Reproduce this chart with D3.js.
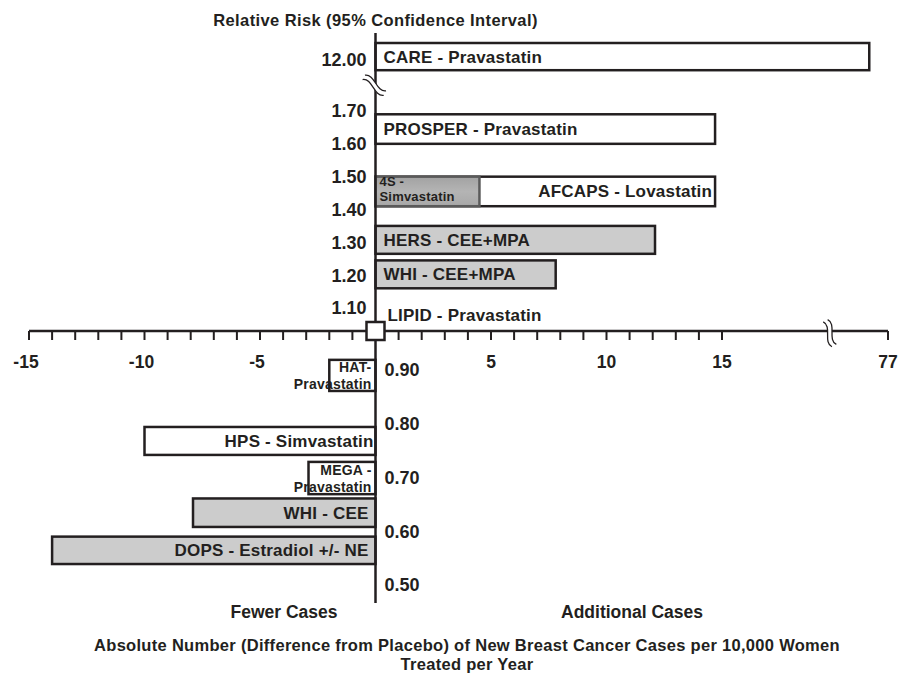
<!DOCTYPE html>
<html>
<head>
<meta charset="utf-8">
<script src="https://cdn.jsdelivr.net/npm/d3@7/dist/d3.min.js"></script>
<style>
  body { margin: 0; background: #fff; }
  svg text { font-family: "Liberation Sans", Arial, Helvetica, sans-serif; font-weight: bold; fill: #231f20; }
</style>
</head>
<body>
<svg id="chart" width="901" height="674"></svg>
<script>
// ---- data ----
const studies = [
  'CARE - Pravastatin', 'PROSPER - Pravastatin', 'AFCAPS - Lovastatin', '4S -\nSimvastatin',
  'HERS - CEE+MPA', 'WHI - CEE+MPA', 'LIPID - Pravastatin', 'HAT-\nPravastatin',
  'HPS - Simvastatin', 'MEGA -\nPravastatin', 'WHI - CEE', 'DOPS - Estradiol +/- NE'
];
// absolute difference from placebo, cases per 10,000 women per year
const diffs = [70, 14.7, 14.7, 4.5, 12.1, 7.8, 0, -2.0, -10.0, -2.9, -7.9, -14.0];
// relative risk band each box covers
const rrHigh = [12.5, 1.69, 1.50, 1.50, 1.35, 1.245, 1.0, 0.926, 0.794, 0.729, 0.661, 0.590];
const rrLow  = [11.7, 1.60, 1.41, 1.41, 1.265, 1.160, 1.0, 0.861, 0.742, 0.669, 0.608, 0.539];
const groups = ['statin', 'statin', 'statin', 'statin4S', 'hormone', 'hormone', 'marker',
  'statin', 'statin', 'statin', 'hormone', 'hormone'];

const rrTicks = [12.0, 1.7, 1.6, 1.5, 1.4, 1.3, 1.2, 1.1, 0.9, 0.8, 0.7, 0.6, 0.5];
const xMinor = d3.range(-15, 16).filter(v => v !== 0).concat([77]);
const xLabels = [-15, -10, -5, 5, 10, 15, 77];

const titleTop = 'Relative Risk (95% Confidence Interval)';
const sideLabels = ['Fewer Cases', 'Additional Cases'];
const titleBottom = ['Absolute Number (Difference from Placebo) of New Breast Cancer Cases per 10,000 Women',
  'Treated per Year'];

// ---- layout ----
const ink = '#231f20';
const fills = { statin: '#ffffff', statin4S: 'url(#g4s)', hormone: '#cccccc', marker: '#ffffff' };

// broken axes: piecewise scales
const x = d3.scaleLinear().domain([-15, 15, 77]).range([29, 722, 888]);
const y = d3.scaleLinear().domain([12.5, 11.5, 1.7, 1.1, 1.0, 0.9, 0.5]).range([43, 77, 111, 308, 331, 370, 585]);
const x0 = x(0), y0 = y(1.0);

const svg = d3.select('#chart');
svg.append('rect').attr('width', 901).attr('height', 674).attr('fill', '#fff');

const grad = svg.append('defs').append('linearGradient').attr('id', 'g4s')
  .attr('x1', 0).attr('y1', 0).attr('x2', 0).attr('y2', 1);
grad.append('stop').attr('offset', '0%').attr('stop-color', '#a2a2a2');
grad.append('stop').attr('offset', '50%').attr('stop-color', '#b4b4b4');
grad.append('stop').attr('offset', '100%').attr('stop-color', '#a8a8a8');

// bars (LIPID drawn as a marker later)
const idx = d3.range(studies.length).filter(i => groups[i] !== 'marker');
svg.selectAll('rect.bar').data(idx).join('rect').attr('class', 'bar')
  .attr('x', i => Math.min(x(diffs[i]), x0))
  .attr('width', i => Math.abs(x(diffs[i]) - x0))
  .attr('y', i => y(rrHigh[i]))
  .attr('height', i => y(rrLow[i]) - y(rrHigh[i]))
  .attr('fill', i => fills[groups[i]])
  .attr('stroke', i => groups[i] === 'statin4S' ? '#5a5a5a' : ink)
  .attr('stroke-width', 2.5);

// axes
svg.append('line').attr('x1', x(-15)).attr('x2', x(77)).attr('y1', y0).attr('y2', y0)
  .attr('stroke', ink).attr('stroke-width', 2.5);
svg.selectAll('line.tick').data(xMinor).join('line').attr('class', 'tick')
  .attr('x1', d => x(d)).attr('x2', d => x(d)).attr('y1', y0).attr('y2', y0 + 9)
  .attr('stroke', ink).attr('stroke-width', 2);
svg.append('line').attr('x1', x0).attr('x2', x0).attr('y1', 33).attr('y2', 603)
  .attr('stroke', ink).attr('stroke-width', 2.5);

// axis breaks: a white gap between two wavy strokes
function brk(cx, cy, angle) {
  const g = svg.append('g').attr('transform', `translate(${cx},${cy}) rotate(${angle})`);
  g.append('path').attr('d', 'M-13,-2 C-5,-8 5,8 13,2 L13,7 C5,13 -5,-3 -13,3 Z').attr('fill', '#fff');
  ['M-13,-2 C-5,-8 5,8 13,2', 'M-13,3 C-5,-3 5,13 13,7'].forEach(d =>
    g.append('path').attr('d', d).attr('fill', 'none').attr('stroke', ink).attr('stroke-width', 1.3));
}
brk(x0, 83, 28);
brk(832, y0 + 1, 62);

// LIPID marker on the origin
const li = groups.indexOf('marker');
svg.append('rect').attr('x', x(diffs[li]) - 9).attr('y', y(rrHigh[li]) - 9).attr('width', 18).attr('height', 18)
  .attr('fill', '#fff').attr('stroke', ink).attr('stroke-width', 2.5);

// study labels
function labelPos(i) {
  const lines = studies[i].split('\n');
  const cy = (y(rrHigh[i]) + y(rrLow[i])) / 2;
  if (groups[i] === 'marker') return { x: x0 + 12, y: y0 - 10, anchor: 'start', size: 17 };
  if (groups[i] === 'statin4S') return { x: x0 + 4, y: cy - 5, anchor: 'start', size: 13, lh: 15 };
  if (diffs[i] > 0 && i === 2) return { x: x(diffs[i]) - 3, y: cy + 6, anchor: 'end', size: 17 };
  if (diffs[i] > 0) return { x: x0 + 8, y: cy + 6, anchor: 'start', size: 17 };
  if (lines.length > 1) return { x: x0 - 4, y: cy - 3, anchor: 'end', size: 14, lh: 16.5 };
  return { x: x0 - (i === 8 ? 2 : 7), y: cy + 6, anchor: 'end', size: 17 };
}
d3.range(studies.length).forEach(i => {
  const p = labelPos(i);
  const t = svg.append('text').attr('x', p.x).attr('y', p.y).attr('text-anchor', p.anchor)
    .attr('font-size', p.size).attr('letter-spacing', 0.2);
  studies[i].split('\n').forEach((s, k) => {
    t.append('tspan').attr('x', p.x).attr('dy', k ? p.lh : 0).text(s);
  });
});

// tick labels
svg.selectAll('text.rr').data(rrTicks).join('text').attr('class', 'rr')
  .attr('x', d => d > 1 ? x0 - 9 : x0 + 9)
  .attr('y', d => y(d)).attr('dy', '0.36em')
  .attr('text-anchor', d => d > 1 ? 'end' : 'start')
  .attr('font-size', 18).text(d => d.toFixed(2));
svg.selectAll('text.xl').data(xLabels).join('text').attr('class', 'xl')
  .attr('x', d => x(d) + (d < 0 ? -3 : 0)).attr('y', y0 + 37)
  .attr('text-anchor', 'middle').attr('font-size', 17.5).text(d => d);

// titles
svg.append('text').attr('x', x0).attr('y', 26).attr('text-anchor', 'middle')
  .attr('font-size', 16.5).attr('letter-spacing', 0.4).text(titleTop);
svg.selectAll('text.side').data(sideLabels).join('text').attr('class', 'side')
  .attr('x', (d, i) => i ? 632 : 284).attr('y', 618).attr('text-anchor', 'middle')
  .attr('font-size', 17.5).text(d => d);
svg.selectAll('text.bt').data(titleBottom).join('text').attr('class', 'bt')
  .attr('x', 467).attr('y', (d, i) => 651 + i * 19).attr('text-anchor', 'middle')
  .attr('font-size', 16.5).attr('letter-spacing', 0.3).text(d => d);
</script>
</body>
</html>
